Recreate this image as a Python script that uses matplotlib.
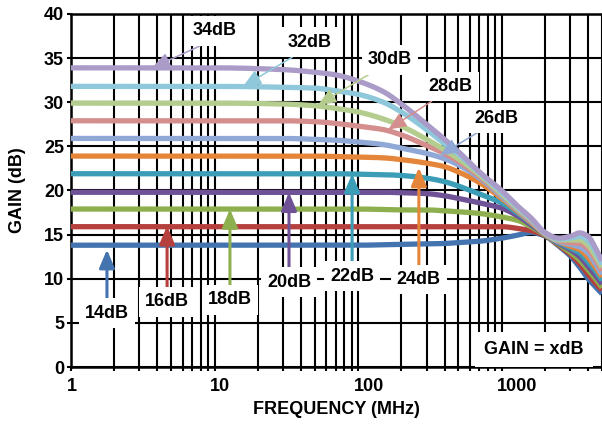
import numpy as np
import matplotlib
matplotlib.use('Agg')
import matplotlib.pyplot as plt
from matplotlib.ticker import FixedLocator, NullFormatter
from matplotlib.transforms import ScaledTranslation

plt.rcParams['font.family'] = ['Liberation Sans', 'DejaVu Sans']
plt.rcParams['font.weight'] = 'bold'

# ---------------- data ----------------
freq_mhz = [1, 10, 30, 50, 70, 100, 150, 200, 300, 400, 500, 700,
            1000, 1300, 1600, 2000, 2500, 3000, 3500, 4000, 4500, 5000]

gain_14 = [13.8, 13.8, 13.8, 13.8, 13.8, 13.8, 13.85, 13.9, 13.95, 14.0, 14.1, 14.25,
           14.6, 14.95, 15.25, 14.85, 13.7, 12.6, 11.3, 10.0, 9.1, 8.3]
gain_16 = [15.9, 15.9, 15.9, 15.9, 15.9, 15.9, 15.9, 15.9, 15.9, 15.9, 15.9, 15.9,
           15.9, 15.7, 15.45, 14.9, 13.8, 12.8, 11.7, 10.5, 9.5, 8.7]
gain_18 = [17.9, 17.9, 17.9, 17.9, 17.9, 17.9, 17.85, 17.8, 17.8, 17.7, 17.6, 17.4,
           17.0, 16.6, 15.9, 14.95, 13.9, 13.0, 12.1, 11.0, 10.0, 9.0]
gain_20 = [19.8, 19.8, 19.8, 19.8, 19.8, 19.8, 19.8, 19.75, 19.65, 19.4, 19.1, 18.6,
           18.0, 17.1, 16.1, 15.0, 14.0, 13.3, 12.5, 11.4, 10.4, 9.4]
gain_22 = [21.9, 21.9, 21.9, 21.9, 21.9, 21.85, 21.8, 21.7, 21.4, 21.0, 20.5, 19.6,
           18.6, 17.4, 16.3, 15.05, 14.1, 13.5, 12.9, 11.9, 10.9, 9.8]
gain_24 = [23.9, 23.9, 23.9, 23.9, 23.85, 23.8, 23.7, 23.5, 23.1, 22.7, 22.1, 20.9,
           19.1, 17.6, 16.4, 15.05, 14.2, 13.7, 13.3, 12.4, 11.3, 10.2]
gain_26 = [25.9, 25.9, 25.9, 25.8, 25.7, 25.5, 25.2, 24.8, 24.2, 23.6, 22.9, 21.4,
           19.3, 17.7, 16.5, 15.1, 14.2, 13.9, 13.6, 12.9, 11.7, 10.5]
gain_28 = [27.9, 27.9, 27.9, 27.8, 27.6, 27.3, 26.9, 26.3, 25.1, 24.2, 23.3, 21.6,
           19.5, 17.8, 16.6, 15.1, 14.3, 14.1, 14.0, 13.4, 12.2, 10.9]
gain_30 = [29.9, 29.9, 29.8, 29.6, 29.3, 28.9, 28.1, 27.3, 25.8, 24.6, 23.6, 21.8,
           19.6, 17.9, 16.7, 15.15, 14.4, 14.4, 14.4, 13.8, 12.6, 11.3]
gain_32 = [31.8, 31.8, 31.7, 31.6, 31.3, 30.9, 30.0, 28.9, 26.9, 25.3, 24.1, 22.0,
           19.8, 18.05, 16.8, 15.2, 14.5, 14.6, 14.8, 14.3, 13.1, 11.6]
gain_34 = [33.9, 33.9, 33.7, 33.4, 33.1, 32.4, 31.2, 29.8, 27.5, 25.8, 24.4, 22.1,
           20.0, 18.2, 16.9, 15.25, 14.6, 14.8, 15.2, 14.8, 13.5, 12.0]

series = [gain_14, gain_16, gain_18, gain_20, gain_22, gain_24,
          gain_26, gain_28, gain_30, gain_32, gain_34]
labels = ['14dB', '16dB', '18dB', '20dB', '22dB', '24dB',
          '26dB', '28dB', '30dB', '32dB', '34dB']
colors = ['#4474B0', '#B5403D', '#8DAF4E', '#6E5295', '#3C9DB6', '#E5853A',
          '#8FA8D5', '#D48E8D', '#B4CD8E', '#8FC8DA', '#AB9BC8']

x_ticks = [1, 10, 100, 1000]
y_ticks = [0, 5, 10, 15, 20, 25, 30, 35, 40]


def pchip(x, y, xn):
    x = np.asarray(x, float); y = np.asarray(y, float)
    h = np.diff(x); d = np.diff(y) / h
    m = np.zeros_like(y)
    for k in range(1, len(y) - 1):
        if d[k - 1] * d[k] > 0:
            w1 = 2 * h[k] + h[k - 1]; w2 = h[k] + 2 * h[k - 1]
            m[k] = (w1 + w2) / (w1 / d[k - 1] + w2 / d[k])
    m[0] = d[0]; m[-1] = d[-1]
    idx = np.clip(np.searchsorted(x, xn) - 1, 0, len(x) - 2)
    t = (xn - x[idx]) / h[idx]
    h00 = 2 * t**3 - 3 * t**2 + 1; h10 = t**3 - 2 * t**2 + t
    h01 = -2 * t**3 + 3 * t**2; h11 = t**3 - t**2
    return h00 * y[idx] + h10 * h[idx] * m[idx] + h01 * y[idx + 1] + h11 * h[idx] * m[idx + 1]


fig = plt.figure(figsize=(6.02, 4.26), dpi=100)
ax = fig.add_axes([71 / 602, 59 / 426, 531 / 602, 353 / 426])
ax.set_xscale('log')
ax.set_xlim(1, 5000)
ax.set_ylim(0, 40)

ax.xaxis.set_major_locator(FixedLocator(x_ticks))
ax.xaxis.set_minor_locator(FixedLocator([k * 10**e for e in range(4) for k in range(2, 10)]))
ax.xaxis.set_minor_formatter(NullFormatter())
ax.set_xticklabels([str(v) for v in x_ticks])
ax.set_yticks(y_ticks)
ax.set_yticklabels([str(v) for v in y_ticks])

ax.grid(which='both', axis='x', color='black', lw=1.5, zorder=1)
ax.grid(which='major', axis='y', color='black', lw=1.5, zorder=1)
ax.set_axisbelow(True)
for s in ['left', 'bottom', 'top']:
    ax.spines[s].set_linewidth(1.8)
    ax.spines[s].set_color('black')
ax.spines['right'].set_visible(False)
ax.tick_params(axis='both', which='both', length=3, width=1.5, color='black',
               labelsize=13)
ax.tick_params(axis='x', which='both', pad=5)
ax.tick_params(axis='y', pad=2)
for lbl in ax.get_xticklabels():
    lbl.set_fontweight('bold')
    lbl.set_horizontalalignment('left')
    lbl.set_transform(lbl.get_transform() + ScaledTranslation(-0.045, 0, fig.dpi_scale_trans))
for lbl in ax.get_yticklabels():
    lbl.set_fontweight('bold')

u = np.log10(freq_mhz)
ud = np.linspace(u[0], u[-1], 800)
for vals, c in zip(series, colors):
    ax.plot(10**ud, pchip(u, vals, ud), color=c, lw=3.8, solid_capstyle='butt', zorder=3)

fs = 13
box = dict(boxstyle='square,pad=0.35', fc='white', ec='none')

# diagonal labels: (text, text xy, tip xy, color, relpos)
diag = [
    ('34dB', (10.0, 38.1), (3.67, 33.9), colors[10], (0.5, 0.0)),
    ('32dB', (46.0, 36.8), (15.8, 31.8), colors[9], (0.35, 0.0)),
    ('30dB', (167, 34.8), (52.6, 29.7), colors[8], (0.25, 0.0)),
    ('28dB', (438, 31.8), (162, 26.9), colors[7], (0.3, 0.0)),
    ('26dB', (915, 28.2), (373, 24.0), colors[6], (0.3, 0.0)),
]
for t, xt, xy, c, rp in diag:
    ax.annotate(t, xy=xy, xytext=xt, ha='center', va='center', fontsize=fs,
                fontweight='bold', bbox=box, zorder=6,
                arrowprops=dict(arrowstyle='-|>,head_length=0.85,head_width=0.36',
                                color=c, lw=1.1, relpos=rp, shrinkA=0, shrinkB=0))

vert = [
    ('14dB', (1.78, 6.1), 13.3, colors[0]),
    ('16dB', (4.67, 7.4), 16.0, colors[1]),
    ('18dB', (12.8, 7.6), 17.9, colors[2]),
    ('20dB', (33.0, 9.6), 19.8, colors[3]),
    ('22dB', (90.8, 10.3), 21.9, colors[4]),
    ('24dB', (265, 9.9), 22.6, colors[5]),
]
for t, xt, tipy, c in vert:
    ax.annotate(t, xy=(xt[0], tipy), xytext=xt, ha='center', va='center', fontsize=fs,
                fontweight='bold', bbox=box, zorder=6,
                arrowprops=dict(arrowstyle='-|>,head_length=0.85,head_width=0.36',
                                color=c, lw=2.2, relpos=(0.5, 1.0), shrinkA=0, shrinkB=0))

ax.text(1685, 1.93, 'GAIN = xdB', ha='center', va='center', fontsize=fs,
        fontweight='bold', zorder=6,
        bbox=dict(boxstyle='square,pad=0.5', fc='white', ec='none'))

fig.text(18 / 602, 1 - 190 / 426, 'GAIN (dB)', rotation=90, ha='center', va='center',
         fontsize=13, fontweight='bold')
fig.text(336 / 602, 1 - 410 / 426, 'FREQUENCY (MHz)', ha='center', va='center',
         fontsize=13, fontweight='bold')

fig.savefig('out.png', dpi=100)
